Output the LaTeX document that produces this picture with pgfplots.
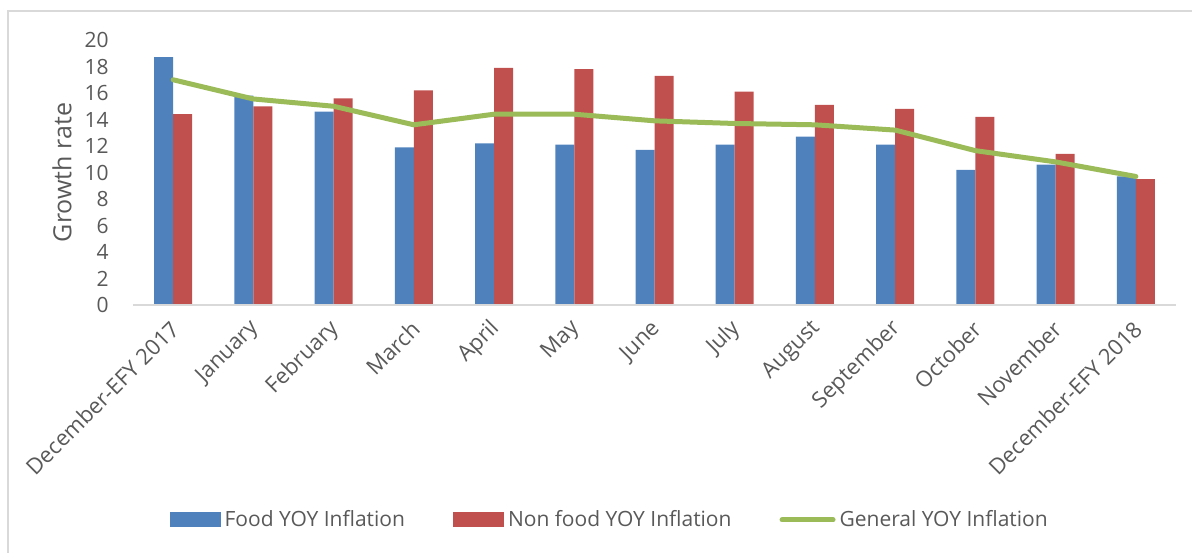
\documentclass[border=0pt]{standalone}
\usepackage{pgfplots}
\pgfplotsset{compat=1.18}
\usepackage{fontspec}
\setmainfont{Open Sans}
\definecolor{fblue}{HTML}{4F81BD}
\definecolor{nred}{HTML}{C0504D}
\definecolor{ggreen}{HTML}{9BBB59}
\definecolor{txt}{HTML}{595959}
\definecolor{lgray}{HTML}{D9D9D9}
\begin{document}
\begin{tikzpicture}
\useasboundingbox (-66.5pt,-123.5pt) rectangle (529.5pt,152.5pt);
\draw[lgray, line width=1pt] (-62.5pt,-200pt) rectangle (700pt,147pt);
\begin{axis}[
  at={(0,0)}, anchor=south west,
  scale only axis, width=521.5pt, height=132.5pt,
  xmin=-0.5, xmax=12.5, ymin=0, ymax=20,
  ytick={0,2,...,20},
  xtick={0,...,12},
  xticklabels={December-EFY 2017,January,February,March,April,May,June,July,August,September,October,November,December-EFY 2018},
  major tick length=0,
  axis line style={draw=none},
  /pgf/number format/assume math mode=true,
  font=\fontsize{10.5}{12}\selectfont,
  tick label style={text=txt},
  yticklabel style={anchor=east, inner sep=0pt, xshift=-12pt},
  xticklabel style={font=\fontsize{11}{13}\selectfont, xshift=1pt, yshift=-10pt, rotate=45, anchor=east, inner sep=0pt},
  ylabel={Growth rate},
  ylabel style={at={(axis description cs:-0.068,0.5)}, anchor=center, text=txt, font=\fontsize{12.5}{15}\selectfont},
  ybar=0pt, bar width=9.5pt,
  legend columns=3,
  legend style={at={(rel axis cs:0.458,-0.811)}, anchor=center, draw=none, fill=none,
    font=\fontsize{10.5}{12}\selectfont, text=txt,
    /tikz/every odd column/.append style={column sep=0pt},
    /tikz/every even column/.append style={column sep=22pt}},
  legend cell align=left,
]
\addplot[fill=fblue, draw=none,
  legend image code/.code={\fill[fblue] (0pt,-3.75pt) rectangle (25.5pt,3.75pt);}]
  coordinates {(0,18.7) (1,15.8) (2,14.6) (3,11.9) (4,12.2) (5,12.1) (6,11.7) (7,12.1) (8,12.7) (9,12.1) (10,10.2) (11,10.6) (12,9.7)};
\addlegendentry{Food YOY Inflation}
\addplot[fill=nred, draw=none,
  legend image code/.code={\fill[nred] (0pt,-3.75pt) rectangle (25.5pt,3.75pt);}]
  coordinates {(0,14.4) (1,15.0) (2,15.6) (3,16.2) (4,17.9) (5,17.8) (6,17.3) (7,16.1) (8,15.1) (9,14.8) (10,14.2) (11,11.4) (12,9.5)};
\addlegendentry{Non food YOY Inflation}
\addplot[sharp plot, ggreen, line width=2.5pt, line join=round, line cap=round, mark=none, bar shift=0pt,
  legend image code/.code={\draw[ggreen, line width=2.5pt, line cap=round] (1pt,0pt) -- (26.5pt,0pt);}]
  coordinates {(0,17.0) (1,15.55) (2,15.0) (3,13.6) (4,14.4) (5,14.4) (6,13.9) (7,13.7) (8,13.6) (9,13.2) (10,11.65) (11,10.8) (12,9.7)};
\addlegendentry{General YOY Inflation}
\draw[lgray, line width=1pt] (axis cs:-0.5,0) -- (axis cs:12.5,0);
\end{axis}
\end{tikzpicture}
\end{document}
